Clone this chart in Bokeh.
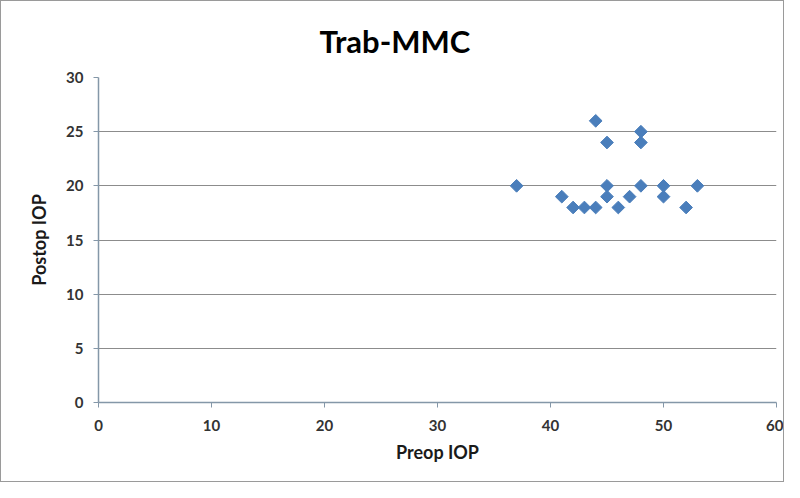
import math
from bokeh.plotting import figure
from bokeh.models import ColumnDataSource, Title, FixedTicker
from bokeh.embed import file_html
from bokeh.resources import INLINE

preop_iop = [37, 41, 42, 43, 44, 44, 45, 45, 45, 46, 47, 48, 48, 48, 50, 50, 52, 53]
postop_iop = [20, 19, 18, 18, 18, 26, 20, 19, 24, 18, 19, 25, 24, 20, 20, 19, 18, 20]
x_ticks = [0, 10, 20, 30, 40, 50, 60]
y_ticks = [0, 5, 10, 15, 20, 25, 30]

FONT = "Lato"
src = ColumnDataSource(data=dict(x=preop_iop, y=postop_iop))

p = figure(width=784, height=482, output_backend="svg", toolbar_location=None,
           x_range=(0, 60), y_range=(0, 30),
           min_border_left=97, min_border_right=9, min_border_top=12, min_border_bottom=81,
           title=None)
p.styles = {"border": "1px solid #9a9a9a"}

t = Title(text="Trab-MMC", align="left", text_font=FONT, text_font_size="31px",
          text_font_style="bold", text_color="#000000", standoff=36, offset=221)
p.add_layout(t, "above")

p.scatter("x", "y", source=src, marker="square", size=9, angle=math.pi / 4,
          fill_color="#4A7EBB", line_color="#4A7EBB", line_width=1)

p.outline_line_color = None
p.xgrid.grid_line_color = None
p.ygrid.grid_line_color = "#8c8c8c"
p.ygrid.grid_line_width = 1.2

for ax in (p.xaxis[0], p.yaxis[0]):
    ax.axis_line_color = "#8497a8"
    ax.axis_line_width = 1.5
    ax.major_tick_line_color = "#8497a8"
    ax.major_tick_out = 5
    ax.major_tick_in = 0
    ax.minor_tick_line_color = None
    ax.major_label_text_font = FONT
    ax.major_label_text_font_size = "15px"
    ax.major_label_text_font_style = "bold"
    ax.major_label_text_color = "#333333"
    ax.axis_label_text_font = FONT
    ax.axis_label_text_font_size = "18px"
    ax.axis_label_text_font_style = "bold"
    ax.axis_label_text_color = "#1a1a1a"

p.xaxis.ticker = FixedTicker(ticks=x_ticks)
p.yaxis.ticker = FixedTicker(ticks=y_ticks)
p.xaxis.axis_label = "Preop IOP"
p.yaxis.axis_label = "Postop IOP"
p.xaxis.major_label_standoff = 12
p.yaxis.major_label_standoff = 10
p.xaxis.axis_label_standoff = 7
p.yaxis.axis_label_standoff = 13

open("out.html", "w").write(file_html(p, INLINE))
